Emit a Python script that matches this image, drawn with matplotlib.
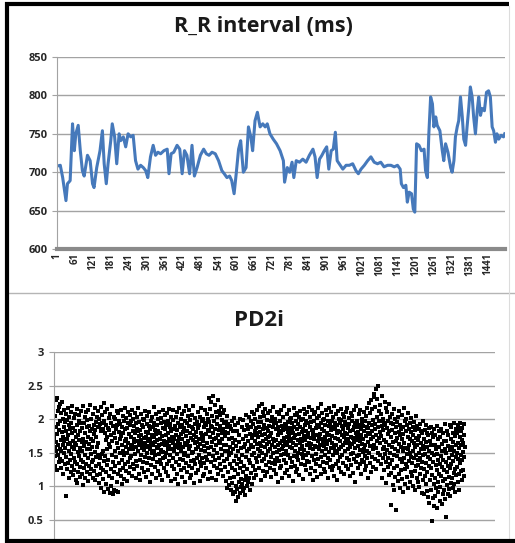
import numpy as np
import matplotlib
matplotlib.use('Agg')
import matplotlib.pyplot as plt
from matplotlib.lines import Line2D

plt.rcParams['font.family'] = 'Open Sans'

# ---- R-R interval (beat number, ms) ----
rr_beat = [1, 11, 19, 30, 35, 44, 52, 58, 63, 71, 78, 85, 91, 102, 111, 119, 124, 133, 144, 152,
           158, 165, 171, 180, 185, 193, 200, 208, 213, 222, 230, 238, 247, 255, 263, 271, 280, 289, 297, 304,
           313, 322, 330, 338, 347, 358, 369, 375, 382, 391, 402, 411, 419, 427, 435, 444, 452, 460, 469, 480,
           491, 500, 509, 519, 530, 541, 552, 560, 569, 578, 585, 593, 600, 608, 615, 624, 633, 641, 649, 655,
           663, 671, 680, 689, 697, 704, 713, 724, 735, 747, 758, 762, 771, 779, 787, 793, 801, 812, 823, 834,
           845, 857, 864, 871, 879, 887, 895, 903, 910, 918, 925, 932, 938, 945, 957, 968, 979, 990, 1001, 1009,
           1018, 1029, 1040, 1051, 1062, 1073, 1084, 1095, 1107, 1118, 1129, 1140, 1149, 1153, 1160, 1168, 1173, 1179, 1187, 1193,
           1198, 1204, 1212, 1220, 1229, 1234, 1240, 1245, 1251, 1257, 1262, 1268, 1273, 1282, 1290, 1295, 1301, 1309, 1318, 1323,
           1329, 1334, 1340, 1345, 1351, 1357, 1362, 1368, 1373, 1379, 1384, 1390, 1395, 1401, 1407, 1412, 1418, 1423, 1431, 1438,
           1445, 1451, 1457, 1462, 1468, 1473, 1479, 1487, 1495, 1499]
rr_ms = [708, 709, 693, 663, 685, 689, 763, 728, 750, 761, 728, 702, 695, 722, 715, 685, 680, 706, 728, 754,
         711, 685, 711, 741, 763, 746, 711, 750, 741, 746, 733, 750, 746, 748, 715, 704, 709, 706, 702, 693,
         720, 735, 722, 726, 724, 728, 730, 698, 724, 726, 735, 730, 698, 728, 722, 698, 735, 695, 706, 722,
         730, 724, 722, 726, 724, 715, 702, 698, 693, 695, 689, 672, 698, 730, 741, 700, 706, 759, 746, 728,
         767, 778, 759, 763, 759, 763, 750, 743, 737, 728, 715, 687, 706, 700, 713, 693, 715, 713, 717, 713,
         722, 730, 720, 693, 717, 722, 728, 733, 704, 728, 730, 752, 715, 711, 704, 709, 709, 711, 702, 698,
         704, 709, 715, 720, 713, 711, 713, 707, 709, 709, 707, 709, 704, 685, 680, 683, 661, 674, 672, 652,
         648, 737, 735, 728, 730, 702, 693, 750, 798, 789, 759, 772, 761, 754, 728, 715, 737, 726, 706, 700,
         715, 746, 759, 767, 798, 772, 743, 735, 759, 785, 811, 798, 772, 750, 780, 798, 774, 783, 780, 804,
         806, 798, 759, 754, 739, 750, 743, 748, 746, 750]
rr_ticks = list(range(1, 1442, 60))

# ---- PD2i, one value per beat (estimated from the dot cloud) ----
pd2i = [
    1.72, 1.45, 2.05, 1.58, 1.31, 2.28, 1.66, 1.89, 1.52, 2.31, 1.24, 1.78, 2.12, 1.47, 1.93, 1.61, 2.18, 1.36, 1.84, 1.55,
    2.22, 1.41, 1.97, 1.69, 1.28, 2.09, 1.53, 1.81, 2.25, 1.38, 1.74, 1.62, 2.01, 1.19, 1.88, 1.49, 2.14, 1.67, 1.33, 1.96,
    1.57, 0.86, 1.83, 2.08, 1.44, 1.71, 1.26, 1.99, 1.63, 2.17, 1.35, 1.76, 1.12, 1.91, 1.52, 2.03, 1.40, 1.86, 1.65, 1.21,
    1.94, 1.48, 2.11, 1.30, 1.79, 1.58, 2.20, 1.17, 1.68, 1.87, 1.43, 2.02, 1.55, 1.25, 1.82, 1.64, 2.07, 1.37, 1.73, 1.09,
    1.62, 1.05, 1.91, 1.34, 2.15, 1.51, 1.76, 1.22, 1.98, 1.45, 1.69, 2.06, 1.14, 1.83, 1.57, 1.29, 2.12, 1.40, 1.95, 1.66,
    1.18, 1.87, 1.53, 2.19, 1.36, 1.71, 1.02, 1.94, 1.60, 1.27, 2.04, 1.47, 1.80, 1.12, 1.66, 2.10, 1.33, 1.89, 1.56, 1.21,
    1.99, 1.42, 1.74, 2.13, 1.08, 1.63, 1.90, 1.31, 1.55, 2.21, 1.19, 1.82, 1.48, 1.70, 1.26, 2.00, 1.59, 1.37, 1.86, 1.13,
    1.67, 2.08, 1.39, 1.92, 1.23, 1.78, 1.51, 2.16, 1.10, 1.84, 1.44, 1.96, 1.30, 1.73, 1.58, 2.03, 1.17, 1.88, 1.46, 1.64,
    2.12, 1.34, 1.88, 1.05, 2.01, 1.42, 1.93, 1.18, 2.18, 1.28, 1.82, 0.97, 1.95, 1.48, 2.06, 1.25, 1.85, 1.11, 1.52, 2.24,
    1.38, 1.97, 0.92, 1.80, 1.45, 2.10, 1.21, 1.69, 1.03, 1.91, 1.55, 2.15, 1.32, 1.74, 0.96, 1.87, 1.40, 2.02, 1.15, 1.63,
    1.84, 0.90, 1.59, 2.07, 1.26, 1.76, 1.01, 1.95, 1.47, 2.20, 1.13, 1.68, 0.88, 1.90, 1.36, 2.04, 1.22, 1.79, 0.95, 1.53,
    2.00, 1.30, 1.72, 0.93, 1.86, 1.44, 2.12, 1.07, 1.64, 1.92, 1.19, 1.57, 2.09, 0.91, 1.81, 1.35, 1.98, 1.24, 1.70, 1.49,
    1.93, 1.16, 1.75, 2.14, 1.39, 1.62, 1.04, 1.89, 1.52, 2.05, 1.27, 1.80, 1.46, 1.98, 1.11, 1.67, 2.17, 1.33, 1.85, 1.58,
    1.70, 1.23, 2.02, 1.50, 1.87, 1.08, 1.64, 1.94, 1.37, 2.11, 1.55, 1.78, 1.20, 1.91, 1.43, 2.06, 1.29, 1.73, 1.60, 1.97,
    1.45, 2.13, 1.62, 1.15, 1.83, 1.56, 2.00, 1.34, 1.71, 1.90, 1.26, 1.66, 2.09, 1.48, 1.79, 1.12, 1.95, 1.59, 1.38, 1.86,
    2.04, 1.31, 1.68, 1.82, 1.53, 2.16, 1.19, 1.75, 1.61, 1.96, 1.40, 1.84, 1.10, 1.69, 2.08, 1.47, 1.77, 1.57, 1.28, 1.92,
    1.63, 1.88, 1.36, 2.01, 1.54, 1.72, 1.22, 1.99, 1.65, 1.44, 2.12, 1.58, 1.81, 1.14, 1.74, 1.93, 1.50, 1.35, 2.05, 1.67,
    1.79, 1.25, 1.90, 1.60, 2.10, 1.43, 1.70, 1.07, 1.86, 1.55, 1.97, 1.32, 1.64, 2.03, 1.49, 1.76, 1.18, 1.89, 1.62, 1.41,
    1.95, 1.52, 1.73, 2.18, 1.29, 1.66, 1.84, 1.46, 2.07, 1.13, 1.78, 1.59, 1.92, 1.37, 1.69, 2.00, 1.23, 1.57, 1.83, 1.48,
    1.61, 2.11, 1.39, 1.80, 1.70, 1.17, 1.94, 1.54, 2.02, 1.33, 1.75, 1.63, 1.09, 1.87, 1.51, 2.14, 1.42, 1.68, 1.96, 1.27,
    1.85, 1.44, 2.06, 1.62, 1.21, 1.77, 1.91, 1.50, 1.34, 2.09, 1.66, 1.79, 1.15, 1.98, 1.56, 1.71, 2.15, 1.38, 1.60, 1.88,
    1.47, 1.93, 1.67, 1.08, 1.82, 2.04, 1.55, 1.30, 1.74, 1.99, 1.43, 1.65, 2.13, 1.26, 1.86, 1.52, 1.71, 1.11, 1.90, 1.58,
    2.03, 1.36, 1.76, 1.61, 1.19, 2.10, 1.48, 1.84, 1.68, 1.04, 1.95, 1.57, 2.17, 1.32, 1.73, 1.89, 1.41, 1.63, 2.00, 1.24,
    1.78, 1.53, 1.92, 1.14, 1.70, 2.08, 1.39, 1.81, 1.59, 1.27, 2.12, 1.46, 1.87, 1.65, 1.06, 1.97, 1.50, 1.75, 2.19, 1.35,
    1.62, 1.94, 1.22, 1.83, 1.45, 2.05, 1.67, 1.31, 1.90, 1.55, 2.14, 1.12, 1.79, 1.60, 1.99, 1.38, 1.72, 1.17, 1.88, 1.49,
    2.06, 1.28, 1.69, 1.85, 1.51, 2.20, 1.40, 1.77, 1.05, 1.93, 1.64, 1.34, 2.02, 1.56, 1.81, 1.20, 1.74, 1.96, 1.43, 1.66,
    1.87, 1.58, 2.11, 1.25, 1.71, 1.92, 1.47, 1.63, 1.08, 2.04, 1.37, 1.80, 1.54, 2.16, 1.30, 1.76, 1.98, 1.42, 1.68, 1.15,
    1.73, 2.01, 1.35, 1.89, 1.60, 1.18, 1.95, 1.52, 2.13, 1.44, 1.78, 1.27, 1.91, 1.65, 2.07, 1.39, 1.84, 1.57, 1.11, 2.00,
    1.82, 2.32, 1.48, 1.96, 1.22, 1.74, 2.15, 1.59, 1.90, 1.36, 2.25, 1.66, 1.13, 1.88, 2.05, 1.45, 1.79, 2.35, 1.31, 1.70,
    1.97, 1.54, 2.21, 1.40, 1.85, 1.09, 1.72, 2.10, 1.62, 1.93, 1.28, 2.03, 1.50, 1.76, 2.28, 1.19, 1.84, 1.67, 2.12, 1.43,
    1.64, 2.06, 1.34, 1.90, 1.56, 2.18, 1.25, 1.79, 1.99, 1.47, 1.70, 2.09, 1.16, 1.86, 1.61, 1.95, 1.38, 2.14, 1.52, 1.81,
    1.75, 1.29, 1.96, 1.08, 1.62, 1.88, 1.41, 2.05, 0.98, 1.53, 1.80, 1.21, 1.93, 1.46, 1.02, 1.71, 1.90, 1.33, 1.59, 1.12,
    1.86, 0.95, 1.49, 1.72, 1.05, 1.98, 1.27, 1.64, 0.88, 1.55, 1.82, 1.14, 2.02, 1.38, 0.92, 1.69, 1.24, 1.91, 1.01, 1.45,
    1.60, 0.78, 1.34, 1.83, 0.96, 1.52, 1.18, 1.95, 0.84, 1.41, 1.76, 1.06, 1.66, 0.90, 1.28, 2.00, 1.11, 1.57, 0.99, 1.37,
    1.88, 1.04, 1.47, 0.93, 1.70, 1.22, 1.99, 0.97, 1.58, 1.31, 1.84, 1.09, 1.63, 0.87, 1.44, 2.06, 1.16, 1.75, 1.00, 1.53,
    1.92, 1.26, 1.67, 1.07, 1.85, 1.40, 2.04, 1.13, 1.55, 0.95, 1.78, 1.35, 1.98, 1.20, 1.61, 1.89, 1.03, 1.72, 1.46, 2.10,
    1.58, 1.93, 1.30, 1.76, 1.12, 2.08, 1.50, 1.83, 1.24, 1.68, 2.01, 1.42, 1.87, 1.17, 1.63, 2.14, 1.36, 1.79, 1.55, 1.96,
    1.73, 2.19, 1.45, 1.88, 1.27, 1.65, 2.03, 1.52, 1.81, 1.10, 1.96, 1.60, 2.22, 1.38, 1.77, 1.49, 2.10, 1.23, 1.85, 1.67,
    2.05, 1.41, 1.92, 1.59, 1.16, 1.78, 2.15, 1.47, 1.70, 1.32, 1.99, 1.63, 1.87, 1.21, 1.74, 2.09, 1.53, 1.83, 1.37, 1.66,
    1.90, 1.28, 1.75, 2.12, 1.56, 1.44, 1.97, 1.14, 1.80, 1.62, 2.04, 1.35, 1.71, 1.89, 1.50, 2.18, 1.25, 1.68, 1.94, 1.40,
    1.59, 2.01, 1.33, 1.85, 1.69, 1.19, 1.95, 1.51, 2.11, 1.43, 1.76, 1.61, 1.06, 1.88, 1.54, 2.07, 1.38, 1.82, 1.64, 1.27,
    1.98, 1.46, 1.79, 2.14, 1.30, 1.67, 1.90, 1.55, 1.12, 2.03, 1.60, 1.84, 1.39, 1.72, 2.20, 1.48, 1.93, 1.20, 1.66, 1.86,
    1.52, 1.91, 1.35, 1.74, 2.08, 1.61, 1.24, 1.96, 1.47, 1.81, 1.68, 2.13, 1.15, 1.77, 1.58, 2.00, 1.42, 1.87, 1.29, 1.70,
    2.02, 1.57, 1.83, 1.37, 1.94, 1.65, 1.08, 1.79, 2.16, 1.45, 1.72, 1.89, 1.31, 2.06, 1.53, 1.76, 1.22, 1.97, 1.62, 1.44,
    1.85, 1.26, 2.09, 1.69, 1.50, 1.93, 1.40, 1.78, 2.04, 1.17, 1.64, 1.88, 1.56, 2.12, 1.34, 1.71, 1.99, 1.48, 1.81, 1.60,
    1.67, 2.00, 1.43, 1.86, 1.11, 1.75, 2.15, 1.54, 1.92, 1.32, 1.69, 2.07, 1.46, 1.83, 1.25, 1.97, 1.61, 1.38, 2.10, 1.73,
    1.94, 1.50, 1.79, 2.18, 1.36, 1.65, 1.88, 1.19, 2.03, 1.57, 1.72, 1.28, 1.96, 1.63, 2.13, 1.45, 1.84, 1.09, 1.77, 1.55,
    1.82, 2.08, 1.39, 1.70, 1.97, 1.23, 1.60, 2.11, 1.48, 1.87, 1.33, 1.76, 2.02, 1.58, 1.14, 1.92, 1.67, 2.16, 1.41, 1.74,
    1.56, 1.89, 2.05, 1.30, 1.78, 1.62, 2.22, 1.44, 1.95, 1.18, 1.71, 1.85, 1.52, 2.09, 1.37, 1.66, 1.99, 1.26, 1.83, 1.60,
    2.01, 1.47, 1.73, 1.91, 1.21, 1.68, 2.14, 1.55, 1.80, 1.35, 2.06, 1.63, 1.42, 1.97, 1.12, 1.77, 1.90, 1.51, 2.17, 1.29,
    1.69, 1.93, 1.40, 1.84, 2.10, 1.57, 1.24, 1.98, 1.64, 1.75, 1.46, 2.03, 1.31, 1.88, 1.59, 2.19, 1.16, 1.72, 1.95, 1.53,
    1.86, 1.34, 2.07, 1.62, 1.79, 1.10, 1.92, 1.49, 2.12, 1.70, 1.38, 1.83, 1.56, 2.00, 1.27, 1.67, 1.94, 1.44, 1.81, 2.15,
    1.58, 1.99, 1.22, 1.76, 1.90, 1.47, 2.08, 1.61, 1.35, 1.85, 1.73, 2.04, 1.19, 1.65, 1.96, 1.52, 1.80, 1.30, 2.11, 1.68,
    1.91, 1.43, 1.78, 2.16, 1.55, 1.26, 1.87, 1.70, 2.02, 1.39, 1.64, 1.93, 1.15, 1.82, 1.59, 2.09, 1.48, 1.74, 1.32, 1.97,
    1.63, 2.05, 1.50, 1.84, 1.20, 1.72, 2.13, 1.41, 1.89, 1.66, 1.07, 1.95, 1.57, 1.79, 2.20, 1.36, 1.69, 1.88, 1.45, 1.75,
    1.98, 1.28, 1.81, 1.60, 2.07, 1.46, 1.73, 1.92, 1.33, 1.67, 2.14, 1.54, 1.86, 1.18, 1.77, 2.01, 1.40, 1.63, 1.94, 1.51,
    1.71, 1.90, 1.37, 2.10, 1.56, 1.83, 1.24, 1.97, 1.62, 1.45, 2.05, 1.75, 1.30, 1.88, 1.53, 2.17, 1.42, 1.79, 1.13, 1.66,
    1.87, 2.24, 1.49, 1.95, 1.35, 1.78, 2.09, 1.60, 1.21, 2.28, 1.70, 1.91, 1.44, 1.82, 2.15, 1.55, 1.99, 1.29, 1.74, 2.33,
    1.62, 2.38, 1.85, 1.41, 2.18, 1.93, 1.57, 2.45, 1.76, 1.26, 2.04, 1.68, 2.30, 1.50, 1.89, 2.50, 1.38, 1.97, 1.72, 2.12,
    1.81, 1.46, 2.21, 1.64, 1.97, 1.33, 2.07, 1.75, 1.12, 1.90, 2.35, 1.55, 1.84, 1.43, 2.01, 1.69, 1.25, 1.94, 1.59, 2.26,
    1.48, 1.92, 1.37, 2.16, 1.66, 1.05, 1.87, 1.54, 2.10, 1.29, 1.78, 1.98, 1.42, 2.22, 1.61, 1.17, 1.83, 1.50, 2.04, 1.34,
    1.73, 1.20, 1.95, 0.72, 1.58, 2.08, 1.39, 1.84, 1.02, 1.66, 1.93, 1.27, 2.15, 1.47, 0.95, 1.79, 1.55, 2.01, 1.14, 1.68,
    1.88, 0.65, 1.45, 1.96, 1.30, 1.72, 1.08, 2.03, 1.53, 1.81, 1.18, 1.63, 2.12, 0.98, 1.76, 1.41, 1.92, 1.24, 1.59, 1.85,
    1.36, 2.06, 1.70, 1.11, 1.89, 1.52, 0.92, 1.78, 2.17, 1.43, 1.65, 1.26, 1.97, 1.04, 1.57, 1.83, 1.33, 2.01, 1.48, 1.14,
    1.91, 1.29, 1.74, 1.56, 2.09, 0.97, 1.62, 1.86, 1.38, 1.70, 1.06, 1.94, 1.50, 1.21, 1.81, 1.44, 2.02, 1.16, 1.67, 1.35,
    1.77, 1.53, 1.00, 1.88, 1.42, 1.65, 1.96, 1.23, 1.58, 1.84, 0.94, 1.47, 1.72, 1.31, 2.05, 1.12, 1.61, 1.90, 1.39, 1.07,
    1.69, 1.32, 1.86, 1.50, 0.99, 1.75, 1.43, 1.93, 1.19, 1.64, 1.82, 1.27, 1.55, 0.90, 1.79, 1.37, 1.98, 1.10, 1.60, 1.46,
    1.26, 1.71, 0.88, 1.55, 1.84, 1.15, 1.48, 1.92, 1.03, 1.66, 1.35, 1.80, 0.93, 1.59, 1.21, 1.76, 1.44, 0.84, 1.87, 1.30,
    1.52, 0.76, 1.68, 1.09, 1.41, 1.89, 0.95, 1.62, 1.28, 0.48, 1.79, 1.17, 1.50, 0.82, 1.73, 1.36, 1.04, 1.85, 0.71, 1.46,
    1.61, 1.13, 0.86, 1.77, 1.32, 1.55, 0.97, 1.90, 1.24, 0.68, 1.48, 1.70, 1.07, 1.39, 0.91, 1.82, 1.19, 1.58, 0.79, 1.34,
    1.74, 0.99, 1.45, 1.86, 1.16, 0.74, 1.63, 1.29, 1.52, 0.88, 1.79, 1.08, 1.40, 1.68, 0.94, 1.25, 1.93, 0.81, 1.56, 1.11,
    1.37, 1.67, 0.55, 1.49, 1.02, 1.83, 1.21, 0.89, 1.60, 1.30, 1.76, 0.96, 1.43, 1.14, 1.91, 0.85, 1.54, 1.27, 1.71, 1.05,
    1.88, 1.33, 1.59, 1.12, 1.47, 0.98, 1.80, 1.38, 1.66, 1.20, 1.94, 1.03, 1.53, 1.75, 1.26, 0.92, 1.62, 1.44, 1.85, 1.17,
    1.50, 1.79, 1.29, 1.92, 1.07, 1.65, 1.41, 1.86, 1.18, 1.57, 0.94, 1.73, 1.35, 1.95, 1.23, 1.61, 1.46, 1.82, 1.10, 1.69,
    1.39, 1.87, 1.25, 1.64, 1.51, 1.93, 1.15, 1.77, 1.44, 1.58,
]
pd2i_ticks = [0.5, 1, 1.5, 2, 2.5, 3]

W, H = 515, 543
fig = plt.figure(figsize=(W / 100, H / 100), dpi=100)
grid_c = '#a3a3a3'
lab_c = '#262626'


def px_box(x0, y0, x1, y1):
    # pixel box (top-left origin) -> figure fraction rect
    return [x0 / W, 1 - y1 / H, (x1 - x0) / W, (y1 - y0) / H]


# ---------- top: R_R interval ----------
ax1 = fig.add_axes(px_box(57, 57, 505, 249))
ax1.plot(rr_beat, rr_ms, color='#4679bb', lw=2.2, solid_joinstyle='round')
ax1.set_xlim(0, 1500)
ax1.set_ylim(600, 850)
ax1.set_yticks([600, 650, 700, 750, 800, 850])
ax1.set_xticks(rr_ticks)
ax1.set_xticklabels([str(t) for t in rr_ticks], rotation=90, fontsize=7,
                    fontweight='bold', color=lab_c)
ax1.tick_params(axis='x', length=0, pad=3)
ax1.tick_params(axis='y', length=3.5, width=0.8, color=grid_c, pad=3,
                labelsize=8, labelcolor=lab_c)
for lab in ax1.get_yticklabels():
    lab.set_fontweight('bold')
ax1.grid(axis='y', color=grid_c, lw=1.0)
ax1.set_axisbelow(True)
for s in ['top', 'right']:
    ax1.spines[s].set_visible(False)
ax1.spines['left'].set_color(grid_c)
ax1.spines['bottom'].set_color('#8a8a8a')
ax1.spines['bottom'].set_linewidth(3)

fig.text(263 / W, 1 - 27 / H, 'R_R interval (ms)', ha='center', va='center',
         fontsize=15.5, fontweight='bold', color='#1a1a1a')

# ---------- bottom: PD2i ----------
ax2 = fig.add_axes(px_box(54, 352, 495, 553.6))
ax2.scatter(np.arange(1, len(pd2i) + 1), pd2i, marker='s', s=5.5, color='black',
            linewidths=0)
ax2.set_xlim(0, 1600)
ax2.set_ylim(0, 3)
ax2.set_yticks(pd2i_ticks)
ax2.set_yticklabels(['0.5', '1', '1.5', '2', '2.5', '3'])
ax2.set_xticks([])
ax2.tick_params(axis='y', length=3.5, width=0.8, color=grid_c, pad=4,
                labelsize=8, labelcolor=lab_c)
for lab in ax2.get_yticklabels():
    lab.set_fontweight('bold')
ax2.grid(axis='y', color=grid_c, lw=1.0)
ax2.set_axisbelow(True)
for s in ['top', 'right', 'bottom']:
    ax2.spines[s].set_visible(False)
ax2.spines['left'].set_color(grid_c)

fig.text(259 / W, 1 - 320 / H, 'PD2i', ha='center', va='center',
         fontsize=16, fontweight='bold', color='#1a1a1a')

# ---------- frame lines ----------
def fig_line(x0, y0, x1, y1, **kw):
    fig.add_artist(Line2D([x0 / W, x1 / W], [1 - y0 / H, 1 - y1 / H],
                          transform=fig.transFigure, zorder=5, **kw))


fig_line(9, 292.5, 515, 292.5, color='#b5b5b5', lw=1.0)
fig_line(509, 6, 509, 539, color='#dcdcdc', lw=0.8)
fig_line(5, 4, 509, 4, color='black', lw=3, solid_capstyle='butt')
fig_line(7, 2, 7, 543, color='black', lw=3, solid_capstyle='butt')
fig_line(5, 541, 515, 541, color='black', lw=3, solid_capstyle='butt')

fig.savefig('out.png', dpi=100)
